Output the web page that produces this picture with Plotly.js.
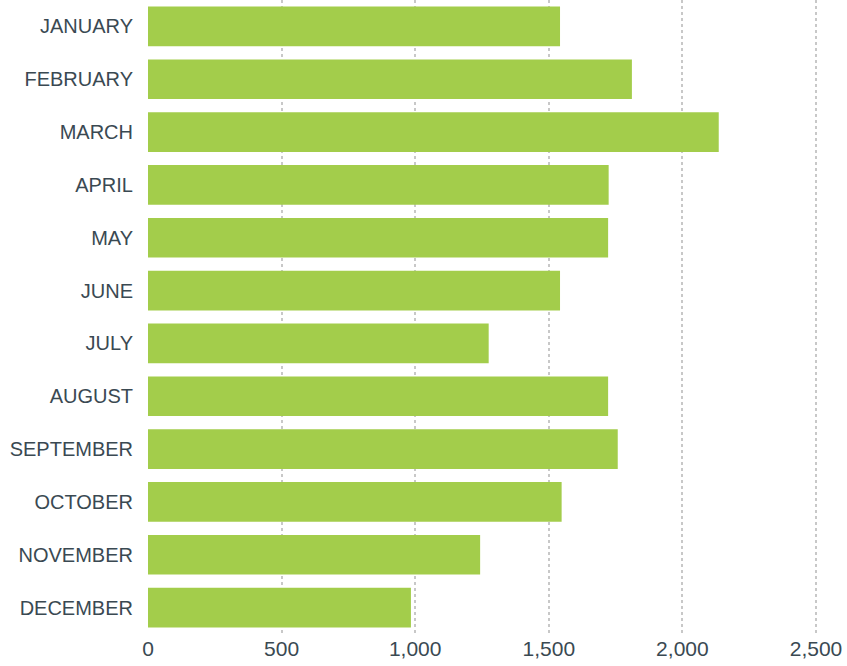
<!DOCTYPE html>
<html>
<head>
<meta charset="utf-8">
<script src="https://cdn.plot.ly/plotly-3.0.1.min.js"></script>
<style>html,body{margin:0;padding:0;background:#fff;}#chart{width:847px;height:666px;}</style>
</head>
<body>
<div id="chart"></div>
<script>
const months = ["JANUARY","FEBRUARY","MARCH","APRIL","MAY","JUNE","JULY","AUGUST","SEPTEMBER","OCTOBER","NOVEMBER","DECEMBER"];
const values = [1542, 1811, 2136, 1724, 1722, 1542, 1275, 1722, 1758, 1548, 1243, 984];
const xTickVals = [0, 500, 1000, 1500, 2000, 2500];
const xTickText = ["0", "500", "1,000", "1,500", "2,000", "2,500"];

const textColor = "#3a4952";
const trace = {
  type: "bar",
  orientation: "h",
  y: months,
  x: values,
  marker: {color: "#a3cd4b"},
  hoverinfo: "x+y"
};
const layout = {
  width: 847, height: 666,
  margin: {l: 148, r: 0, t: 0, b: 32, pad: 0},
  paper_bgcolor: "#fff", plot_bgcolor: "#fff",
  bargap: 0.25,
  showlegend: false,
  xaxis: {
    range: [0, 2616],
    tickvals: xTickVals, ticktext: xTickText,
    showgrid: true, gridcolor: "#c8c8c8", griddash: "dot", gridwidth: 2,
    zeroline: false, showline: false, ticks: "",
    ticklabeloverflow: "allow",
    automargin: false,
    tickfont: {family: "Liberation Sans, Arial, sans-serif", size: 21, color: textColor},
    fixedrange: true
  },
  yaxis: {
    autorange: "reversed",
    showgrid: false, zeroline: false, showline: false, ticks: "",
    ticklabelstandoff: 14,
    automargin: false,
    tickfont: {family: "Liberation Sans, Arial, sans-serif", size: 20, color: textColor},
    fixedrange: true
  }
};
Plotly.newPlot("chart", [trace], layout, {displayModeBar: false, staticPlot: true});
</script>
</body>
</html>
